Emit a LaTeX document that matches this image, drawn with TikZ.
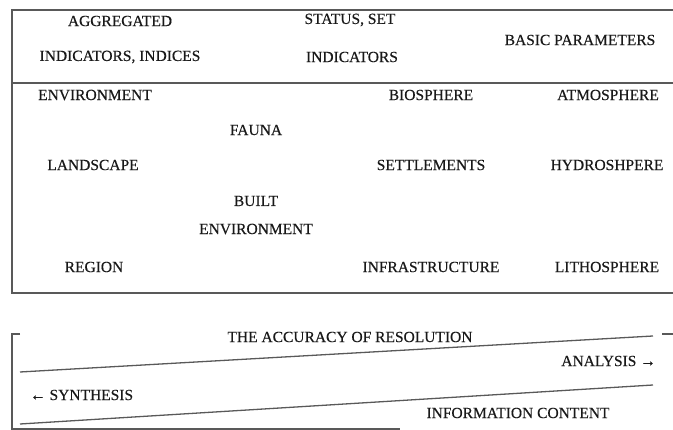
\documentclass[tikz,border=0pt]{standalone}
\usepackage{fontspec}
\setmainfont[FakeBold=0.35]{Liberation Serif}
\begin{document}
\begin{tikzpicture}[x=1pt,y=-1pt,
  lbl/.style={inner sep=0pt, text=black!90, font=\fontsize{15.5}{18}\selectfont},
  rule/.style={draw=black!65, line width=1.3pt}]
\useasboundingbox (0,0) rectangle (673,430);
% top box
\draw[rule] (673,10) -- (12,10) -- (12,293) -- (673,293);
\draw[rule] (12,83) -- (673,83);
% header texts
\node[lbl] (agg) at (120,21) {AGGREGATED};
\node[lbl] (ind1) at (120,57) {INDICATORS, INDICES};
\node[lbl] (stat) at (350,20) {STATUS, SET};
\node[lbl] (ind2) at (352,57) {INDICATORS};
\node[lbl] (basic) at (580,40) {BASIC PARAMETERS};
% body texts
\node[lbl] (env) at (95,95) {ENVIRONMENT};
\node[lbl] (bio) at (431,95) {BIOSPHERE};
\node[lbl] (atm) at (608,95) {ATMOSPHERE};
\node[lbl] (fauna) at (256,130) {FAUNA};
\node[lbl] (land) at (93,165) {LANDSCAPE};
\node[lbl] (settl) at (431,165) {SETTLEMENTS};
\node[lbl] (hydro) at (607,165) {HYDROSHPERE};
\node[lbl] (built) at (256,201) {BUILT};
\node[lbl] (benv) at (256,229) {ENVIRONMENT};
\node[lbl] (region) at (94,267) {REGION};
\node[lbl] (infra) at (431,267) {INFRASTRUCTURE};
\node[lbl] (litho) at (607,267) {LITHOSPHERE};
% bottom diagram
\draw[rule] (20,334) -- (12,334) -- (12,430);
\draw[rule] (12,429) -- (400,429);
\draw[rule] (662,334) -- (673,334);
\draw[rule] (20,372) -- (653,336);
\draw[rule] (20,424) -- (653,385);
\node[lbl] (acc) at (350,337) {THE ACCURACY OF RESOLUTION};
\node[lbl, anchor=east] (ana) at (656,361) {ANALYSIS →};
\node[lbl, anchor=west] (syn) at (30,395) {← SYNTHESIS};
\node[lbl] (info) at (518,413) {INFORMATION CONTENT};
\end{tikzpicture}
\end{document}
